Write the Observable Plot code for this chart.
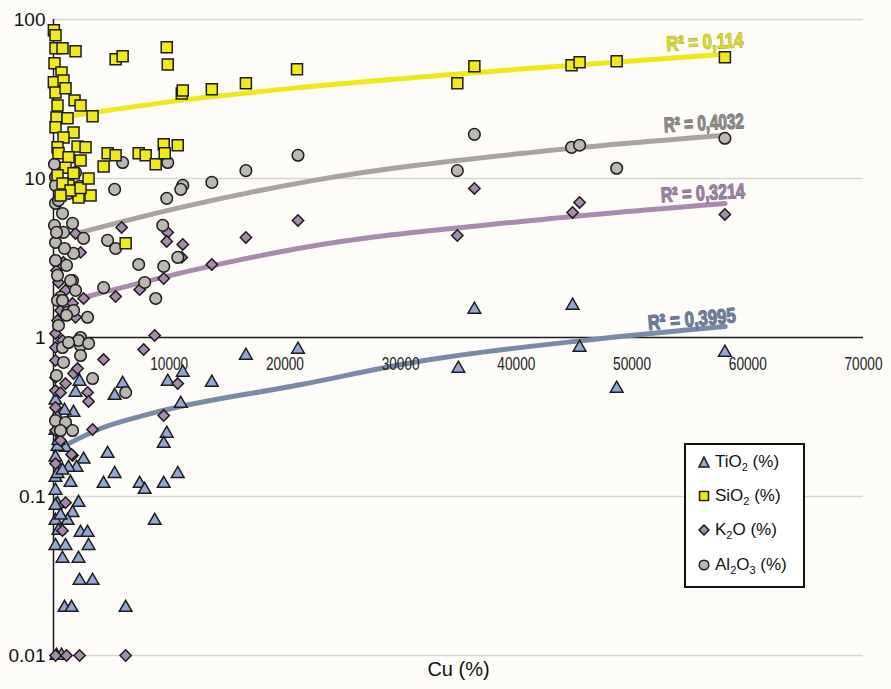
<!DOCTYPE html>
<html>
<head>
<meta charset="utf-8">
<script src="https://cdn.jsdelivr.net/npm/d3@7"></script>
<script src="https://cdn.jsdelivr.net/npm/@observablehq/plot@0.6"></script>
<style>
  html, body { margin: 0; padding: 0; background: #fdfcf9; }
  #wrap { position: relative; width: 891px; height: 689px; }
  #legend { position: absolute; left: 684px; top: 443px; width: 121px; height: 145px; border: 2px solid #111;
            background: #fff; box-sizing: border-box; font-family: "Liberation Sans", Arial, sans-serif; font-size: 17px; color: #111; }
  .row { position: absolute; left: 0; height: 24px; display: flex; align-items: center; }
  .row svg { margin-left: 12px; margin-right: 5px; }
  sub { font-size: 11px; vertical-align: -4px; line-height: 0; }
</style>
</head>
<body>
<div id="wrap"></div>
<script>
// ---- Data (Cu in x, oxide % in y) ----
const siO2 = [
  [30,85.5],[173,79.5],[173,65.9],[779,66],[1905,63.1],[5369,56.2],[5975,58.7],[9786,66.8],[9873,52.2],[11085,34.3],[11172,35.8],
  [87,53],[693,46.5],[30,40.3],[866,41.4],[173,34.8],[1039,36.9],[1819,31.0],[2338,28.8],[3377,24.6],[346,28.8],[260,24.2],
  [1212,23.9],[173,21.0],[1732,19.5],[866,18.1],[346,15.7],[2078,15.9],[2771,15.7],[433,14.4],[1299,13.6],[2338,13.0],[1039,11.7],[1732,10.8],
  [4676,14.4],[5369,14.0],[4330,11.9],[7361,14.4],[7967,14.0],[8833,12.3],[9526,16.4],[10738,16.2],[9613,14.4],[6235,3.91],[3204,7.83],[2165,7.6],[1299,9.05],
  [13683,36.4],[16627,39.7],[21044,48.6],[34900,39.7],[36372,50.8],[44772,51.5],[45465,53.8],[48669,54.6],[58022,57.8],
  [346,10.5],[779,9.3],[1472,8.4],[2338,8.7],[3031,10.0],[606,7.83]
];
const al2O3 = [
  [9872,12.6],[21130,14.0],[16627,11.2],[13683,9.45],[11171,9.05],[10998,8.54],[9786,7.5],[9439,5.07],[10738,3.19],[9526,2.80],[8833,1.76],
  [36372,18.95],[34900,11.2],[44772,15.7],[45465,16.2],[48669,11.6],[58022,17.9],
  [5975,12.6],[87,12.3],[1905,10.9],[173,10.2],[5282,8.54],[4676,4.08],[5369,3.63],[7361,2.88],[7880,2.22],[4330,2.06],
  [1645,5.22],[2598,4.2],[779,6.03],[866,4.58],[1732,3.38],[1645,2.28],[1212,1.44],[2944,1.34],[2338,1.0],[606,1.79],[173,3.05],[173,3.96],
  [173,6.97],[1299,8.06],[2078,7.83],[779,8.42],[2251,8.92],
  [2338,0.89],[3377,0.552],[6235,0.451],[173,0.300],[1039,0.292],[606,0.260],[1645,0.260],[779,0.865],[2165,0.958],[3031,0.917],[2338,0.77],
  [1472,2.28],[346,1.71],[1732,1.48],[1126,1.38],[173,9.05],[433,7.28],[87,5.07],[346,2.46],[779,1.71],[433,1.19],[1299,0.93],[866,0.697],
  [260,0.577],[1126,2.84],[1905,1.98],[260,4.58],[953,3.63]
];
const k2O = [
  [21130,5.45],[16627,4.26],[9873,4.58],[9786,4.02],[11171,3.85],[11085,3.19],[13683,2.88],[9526,2.35],[36372,8.66],[34900,4.38],
  [45465,7.07],[44859,6.12],[58022,5.94],
  [5889,4.92],[7448,2.0],[5369,1.81],[866,2.97],[2338,3.43],[1905,4.51],[2598,1.76],[1039,1.98],[1905,1.34],[1645,1.64],[8747,1.03],
  [173,1.06],[7794,0.84],[4330,0.727],[10738,0.513],[9526,0.323],[3377,0.264],[2944,0.451],[3031,0.396],[1645,0.181],[1039,0.513],
  [1732,0.593],[2078,0.638],[173,0.260],[173,0.717],[173,0.56],[173,0.464],[1039,0.0915],[173,0.363],[173,0.865],[1559,0.184],[173,0.161],
  [779,0.061],[173,0.01],[1126,0.01],[2251,0.01],[6235,0.01],[346,1.28],[606,1.48],[433,2.22],[260,2.64],[779,0.958],[606,0.225],[606,0.45]
];
const tiO2 = [
  [16627,0.77],[21130,0.84],[34987,0.638],[45465,0.865],[9873,0.529],[11171,0.602],[13683,0.521],[10998,0.384],[9786,0.249],[9526,0.215],
  [10738,0.139],[9526,0.1205],[36372,1.50],[44859,1.59],[58022,0.805],[48669,0.478],
  [5975,0.513],[5282,0.431],[4676,0.186],[2598,0.171],[1992,0.152],[1299,0.152],[5282,0.139],[4330,0.1205],[7448,0.1205],[7880,0.1105],
  [2251,0.529],[1905,0.451],[1732,0.337],[953,0.347],[1039,0.203],[346,0.206],[173,0.176],[173,0.402],[173,0.1315],[1472,0.1223],[173,0.109],
  [2165,0.0915],[346,0.139],[346,0.090],[1645,0.079],[173,0.0705],[1212,0.0705],[8747,0.0705],[2338,0.0593],[2944,0.0593],[3031,0.049],
  [173,0.049],[1039,0.049],[779,0.0407],[2165,0.0407],[2251,0.0296],[3377,0.0296],[953,0.02],[1559,0.02],[6235,0.02],[260,0.01],[693,0.01],
  [173,0.26],[433,0.225],[606,0.279],[260,0.323],[779,0.146],[173,0.0877],[433,0.061],[606,0.076]
];
// Trend lines
const trendSiO2 = [[1733,24.9],[11002,31.0],[21398,37.4],[41324,49.3],[58044,60.4]];
const trendAl2O3 = [[2339,4.58],[11002,6.58],[22524,9.73],[41324,14.6],[58044,18.7]];
const trendK2O = [[2599,1.785],[12735,2.72],[21138,3.63],[41324,5.45],[58044,6.97]];
const trendTiO2 = [[1300,0.215],[4070,0.2675],[8403,0.332],[21398,0.506],[31534,0.706],[47388,0.9856],[58044,1.173]];
const r2Text = ["R² = 0,114", "R² = 0,4032", "R² = 0,3214", "R² = 0,3995"];
const r2X = [56290, 56204, 56117, 55163];
const r2Y = [71.9, 22.2, 8.06, 1.30];
const r2Width = [77, 80, 84, 88];
const yTicks = [100, 10, 1, 0.1, 0.01];
const yTickLabels = ["100", "10", "1", "0.1", "0.01"];
const xTicks = [10000, 20000, 30000, 40000, 50000, 60000, 70000];
const gridY = [100, 10, 0.1, 0.01];
const xLabel = "Cu (%)";

const X = d => d[0], Y = d => d[1];
const colors = {ti: "#93a7d6", si: "#f0ea1c", k: "#a88aae", al: "#bbb7b3"};
const r2Idx = [0, 1, 2, 3];
const r2Fill = ["#d9d82a", "#8c8a89", "#9a80a4", "#6d7e9a"];
const r2Stroke = ["#a9a83a", "#6f6d6c", "#7d6888", "#56657f"];
const r2Rot = [-3, -3, -3, -5];

const chart = Plot.plot({
  width: 891, height: 689,
  marginLeft: 53, marginRight: 28, marginTop: 19, marginBottom: 34,
  style: {background: "transparent", fontFamily: "Liberation Sans, Arial, sans-serif", overflow: "visible"},
  x: {domain: [0, 70000], axis: null},
  y: {type: "log", domain: [0.01, 100], axis: null},
  marks: [
    Plot.ruleY(gridY, {stroke: "#d9d6d1", strokeWidth: 1.5}),
    Plot.ruleY([1], {stroke: "#1a1a1a", strokeWidth: 1.5}),
    Plot.ruleX([0], {stroke: "#1a1a1a", strokeWidth: 1.5}),
    Plot.text(yTicks, {x: 0, y: d => d, text: (d, i) => yTickLabels[i], dx: -8, textAnchor: "end", fontSize: 19, fill: "#111"}),
    Plot.line(trendTiO2, {x: X, y: Y, stroke: "#7a8ba8", strokeWidth: 5, curve: "monotone-x"}),
    Plot.line(trendK2O, {x: X, y: Y, stroke: "#a98bad", strokeWidth: 5, curve: "monotone-x"}),
    Plot.line(trendAl2O3, {x: X, y: Y, stroke: "#aaa4a0", strokeWidth: 5, curve: "monotone-x"}),
    Plot.line(trendSiO2, {x: X, y: Y, stroke: "#efe918", strokeWidth: 5, curve: "monotone-x"}),
    Plot.text(xTicks, {x: d => d, y: 1, text: d => String(d), dy: 27, fontSize: 17.5, fill: "#222", className: "xtick"}),
    Plot.dot(tiO2, {x: X, y: Y, symbol: "triangle", r: 4.7, fill: colors.ti, stroke: "#1c1c1c", strokeWidth: 1.5}),
    Plot.dot(k2O, {x: X, y: Y, symbol: "diamond2", r: 5.1, fill: colors.k, stroke: "#1c1c1c", strokeWidth: 1.5}),
    Plot.dot(al2O3, {x: X, y: Y, symbol: "circle", r: 5.8, fill: colors.al, stroke: "#1c1c1c", strokeWidth: 1.5}),
    Plot.dot(siO2, {x: X, y: Y, symbol: "square", r: 6.2, fill: colors.si, stroke: "#1c1c1c", strokeWidth: 1.5}),
    Plot.text(r2Idx, {x: i => r2X[i], y: i => r2Y[i], text: i => r2Text[i], fill: i => r2Fill[i], stroke: i => r2Stroke[i],
      strokeWidth: 1.1, fontWeight: "bold", fontSize: 21, rotate: i => r2Rot[i], className: "r2"}),
    Plot.text([xLabel], {frameAnchor: "bottom", dy: 20, fontSize: 20, fill: "#111"})
  ]
});
// condense tick labels and R² labels to the reference's narrow lettering
d3.select(chart).selectAll(".xtick text").attr("textLength", 38).attr("lengthAdjust", "spacingAndGlyphs");
d3.select(chart).selectAll(".r2 text").each(function(d, j) {
  d3.select(this).attr("textLength", r2Width[j]).attr("lengthAdjust", "spacingAndGlyphs");
});
const wrap = document.getElementById("wrap");
wrap.appendChild(chart);

// Legend
const legendItems = [
  {sym: "tri", fill: colors.ti, html: "TiO<sub>2</sub> (%)"},
  {sym: "sq", fill: colors.si, html: "SiO<sub>2</sub> (%)"},
  {sym: "dia", fill: colors.k, html: "K<sub>2</sub>O (%)"},
  {sym: "cir", fill: colors.al, html: "Al<sub>2</sub>O<sub>3</sub> (%)"}
];
const legendTops = [5, 39, 73, 108];
const leg = document.createElement("div");
leg.id = "legend";
legendItems.forEach((it, i) => {
  const row = document.createElement("div");
  row.className = "row";
  row.style.top = legendTops[i] + "px";
  let shape = "";
  if (it.sym === "tri") shape = `<polygon points="6,1 11,11 1,11" fill="${it.fill}" stroke="#1c1c1c" stroke-width="1.5"/>`;
  if (it.sym === "sq") shape = `<rect x="1.5" y="1.5" width="9" height="9" fill="${it.fill}" stroke="#1c1c1c" stroke-width="1.5"/>`;
  if (it.sym === "dia") shape = `<polygon points="6,1 11,6 6,11 1,6" fill="${it.fill}" stroke="#1c1c1c" stroke-width="1.5"/>`;
  if (it.sym === "cir") shape = `<circle cx="6" cy="6" r="4.8" fill="${it.fill}" stroke="#1c1c1c" stroke-width="1.5"/>`;
  row.innerHTML = `<svg width="12" height="12">${shape}</svg><span>${it.html}</span>`;
  leg.appendChild(row);
});
wrap.appendChild(leg);
</script>
</body>
</html>
